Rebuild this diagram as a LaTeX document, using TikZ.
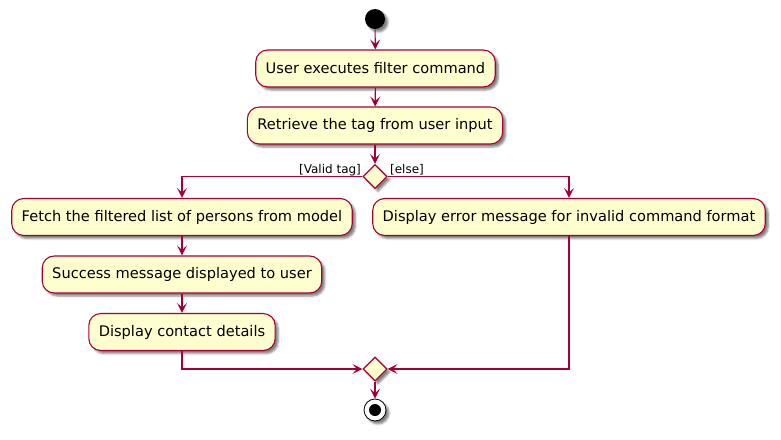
\documentclass[tikz,border=0pt]{standalone}
\usepackage{fontspec}
\setmainfont{DejaVu Sans}
\usetikzlibrary{shapes.geometric,arrows.meta,shadows,shadows.blur,positioning}
\definecolor{umlred}{HTML}{A80036}
\definecolor{umlfill}{HTML}{FEFECE}
\begin{document}
\begin{tikzpicture}[x=1pt,y=-1pt,>={Stealth[length=10pt,width=10pt,inset=4.5pt]},
      thick,line width=1.1pt,
      umlshadow/.style={blur shadow={shadow xshift=3pt,shadow yshift=-3pt,shadow blur radius=2pt,shadow opacity=50}},
      action/.style={rectangle,rounded corners=12pt,draw=umlred,fill=umlfill,umlshadow,
        minimum height=37pt,inner xsep=10pt,font=\fontsize{14.6}{17}\selectfont},
      branch/.style={diamond,draw=umlred,fill=umlfill,umlshadow,inner sep=0pt,minimum width=24pt,minimum height=24pt},
      guard/.style={font=\fontsize{12}{14}\selectfont,inner sep=0pt},
      flow/.style={->,draw=umlred}]
 \useasboundingbox (0,0) rectangle (781,439);
 \node[circle,fill=black,minimum size=20pt,inner sep=0pt,umlshadow] (start) at (375,19) {};
 \node[action] (exec) at (375.5,68.5) {User executes filter command};
 \node[action] (tag) at (375,125.5) {Retrieve the tag from user input};
 \node[branch] (valid) at (375,176.5) {};
 \node[guard,anchor=base east] (yes) at ([xshift=-1pt,yshift=3pt]valid.west) {[Valid tag]};
 \node[guard,anchor=base west] (no) at ([xshift=2pt,yshift=3pt]valid.east) {[else]};
 \node[action] (fetch) at (182,217) {Fetch the filtered list of persons from model};
 \node[action] (error) at (569,217) {Display error message for invalid command format};
 \node[action] (success) at (182,274.5) {Success message displayed to user};
 \node[action] (details) at (182,332) {Display contact details};
 \node[branch] (merge) at (375,369) {};
 \node[circle,draw=black,fill=white,minimum size=22pt,inner sep=0pt,line width=0.8pt,umlshadow] (stop) at (375,410) {};
 \fill (stop.center) circle (6pt);

 \path[flow]
  (start) edge (exec)
  (exec) edge (tag)
  (tag) edge (valid)
  (fetch) edge (success)
  (success) edge (details)
  (merge) edge (stop);
 \draw[flow] (valid.west) -| (fetch.north);
 \draw[flow] (valid.east) -| (error.north);
 \draw[flow] (details.south) |- (merge.west);
 \draw[flow] (error.south) |- (merge.east);
\end{tikzpicture}
\end{document}
